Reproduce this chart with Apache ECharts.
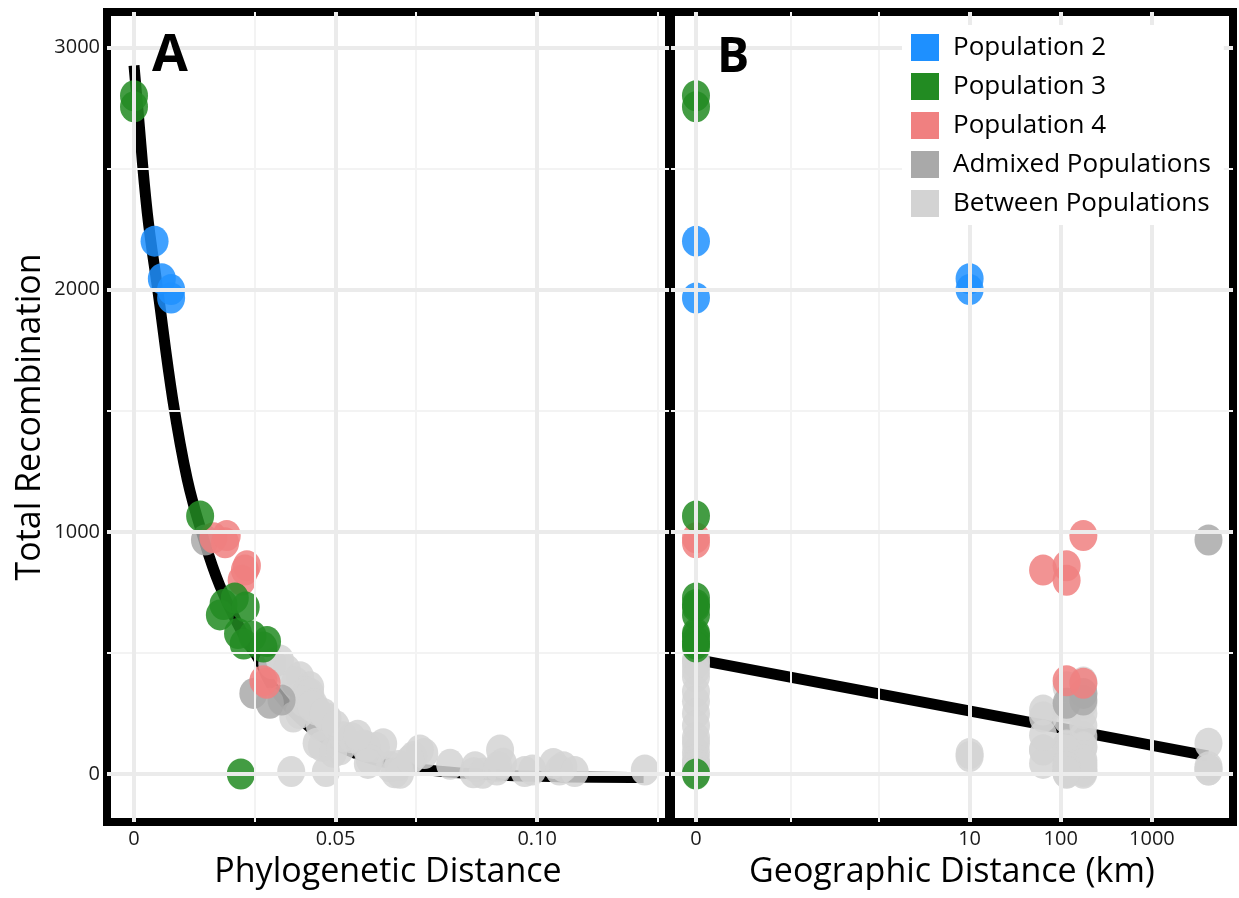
<!DOCTYPE html>
<html>
<head>
<meta charset="utf-8">
<script src="https://cdn.jsdelivr.net/npm/echarts@6/dist/echarts.min.js"></script>
<style>
  html, body { margin: 0; padding: 0; background: #fff; }
  #chart { width: 1239px; height: 898px; }
</style>
</head>
<body>
<div id="chart"></div>
<script>
// ---- data ----
const groupNames = ["Population 2", "Population 3", "Population 4", "Admixed Populations", "Between Populations"];
const groupColors = ["#1E90FF", "#228B22", "#F08080", "#A9A9A9", "#D3D3D3"];

const pop2Phylo = [0.0051, 0.0069, 0.0092, 0.0092];
const pop2Geo = [0, 10, 10, 0];
const pop2Recomb = [2200, 2045, 2000, 1965];

const pop3Phylo = [0, 0, 0.0164, 0.0222, 0.0213, 0.0250, 0.0277, 0.0258, 0.0294, 0.0272, 0.0330, 0.0321, 0.0265];
const pop3Geo = [0, 0, 0, 0, 0, 0, 0, 0, 0, 0, 0, 0, 0];
const pop3Recomb = [2800, 2755, 1065, 700, 657, 727, 690, 580, 570, 537, 547, 524, 0];

const pop4Phylo = [0.0197, 0.0226, 0.0230, 0.0280, 0.0275, 0.0267, 0.0321, 0.0329];
const pop4Geo = [0, 0, 177, 116, 64, 116, 116, 177];
const pop4Recomb = [975, 955, 985, 860, 842, 800, 385, 375];

const admixPhylo = [0.0176, 0.0296, 0.0337, 0.0366];
const admixGeo = [4170, 177, 116, 177];
const admixRecomb = [966, 333, 292, 306];

const betweenPhylo = [0.0362, 0.0343, 0.0379, 0.0412, 0.0400, 0.0437, 0.0428, 0.0437, 0.0420, 0.0445,
  0.0453, 0.0410, 0.0395, 0.0461, 0.0480, 0.0519, 0.0453, 0.0466, 0.0494, 0.0511,
  0.0577, 0.0618, 0.0570, 0.0540, 0.0600, 0.0585, 0.0580, 0.0635, 0.0656, 0.0647,
  0.0660, 0.0693, 0.0720, 0.0709, 0.0685, 0.0784, 0.0846, 0.0842, 0.0865, 0.0908,
  0.0900, 0.0915, 0.0903, 0.0969, 0.0988, 0.1040, 0.1055, 0.1065, 0.1093, 0.1267,
  0.0390, 0.0476, 0.0440, 0.0470, 0.0500, 0.0555];
const betweenGeo = [0, 0, 0, 0, 177, 116, 0, 177, 0, 177,
  64, 0, 64, 0, 116, 177, 4170, 116, 0, 64,
  177, 0, 116, 0, 177, 0, 64, 4170, 116, 116,
  177, 10, 10, 116, 177, 0, 177, 0, 116, 64,
  177, 116, 0, 177, 116, 177, 4170, 116, 0, 4170,
  0, 116, 116, 177, 177, 64];
const betweenRecomb = [471, 455, 430, 402, 380, 360, 340, 333, 300, 290,
  264, 250, 235, 200, 230, 154, 127, 115, 90, 100,
  113, 125, 120, 150, 110, 60, 44, 30, 35, 5,
  3, 72, 85, 99, 58, 40, 30, 5, 3, 99,
  17, 45, 30, 10, 17, 44, 17, 30, 10, 17,
  10, 10, 280, 250, 200, 160];

// fitted curve in panel A, fitted line in panel B
const curvePhylo = [0, 0.0009, 0.0033, 0.0060, 0.0096, 0.0132, 0.0168, 0.0213, 0.0277, 0.0308, 0.035, 0.045, 0.055, 0.065, 0.075, 0.09, 0.105, 0.1264];
const curveRecomb = [2925, 2756, 2316, 1986, 1547, 1217, 997, 777, 557, 478, 344, 175, 85, 38, 13, -4, -11, -14];
const fitGeo = [0, 4100];
const fitRecomb = [473, 75];

// axis breaks
const phyloTicks = [0, 0.05, 0.10];
const phyloTickLabels = ["0", "0.05", "0.10"];
const phyloMinor = [0.025, 0.075, 0.125];
const geoTicks = [0, 10, 100, 1000];
const geoTickLabels = ["0", "10", "100", "1000"];
const geoMinor = [0.1, 1];
const recombTicks = [0, 1000, 2000, 3000];
const recombMinor = [500, 1500, 2500];

// geographic axis is log10(km + 0.01)
const geoPos = km => Math.log10(km + 0.01);

const FONT = '"Open Sans", "Noto Sans", sans-serif';
const ellipse = "path://M0,15.5A14,15.5 0 1,1 28,15.5A14,15.5 0 1,1 0,15.5Z";

const groups = [
  [pop2Phylo, pop2Geo, pop2Recomb],
  [pop3Phylo, pop3Geo, pop3Recomb],
  [pop4Phylo, pop4Geo, pop4Recomb],
  [admixPhylo, admixGeo, admixRecomb],
  [betweenPhylo, betweenGeo, betweenRecomb]
];

function gridLines(xMajor, xMinor, yMajor, yMinor) {
  const major = { color: "#EBEBEB", width: 4, type: "solid" };
  const minor = { color: "#F3F3F3", width: 2, type: "solid" };
  return [].concat(
    xMinor.map(v => ({ xAxis: v, lineStyle: minor })),
    yMinor.map(v => ({ yAxis: v, lineStyle: minor })),
    xMajor.map(v => ({ xAxis: v, lineStyle: major })),
    yMajor.map(v => ({ yAxis: v, lineStyle: major }))
  );
}

function nearestLabel(ticks, labels, v) {
  let best = 0;
  ticks.forEach((t, i) => { if (Math.abs(t - v) < Math.abs(ticks[best] - v)) best = i; });
  return labels[best];
}

const series = [];
// grid lines, drawn first so everything sits on top
series.push({
  type: "scatter", xAxisIndex: 0, yAxisIndex: 0, data: [], silent: true, z: 1,
  markLine: { silent: true, symbol: ["none", "none"], label: { show: false }, animation: false,
    data: gridLines(phyloTicks, phyloMinor, recombTicks, recombMinor) }
});
series.push({
  type: "scatter", xAxisIndex: 1, yAxisIndex: 1, data: [], silent: true, z: 1,
  markLine: { silent: true, symbol: ["none", "none"], label: { show: false }, animation: false,
    data: gridLines(geoTicks.map(geoPos), geoMinor.map(geoPos), recombTicks, recombMinor) }
});

// fit lines under the points
series.push({
  name: "fitA", type: "line", xAxisIndex: 0, yAxisIndex: 0, smooth: 0.4, symbol: "none", z: 2,
  lineStyle: { color: "#000", width: 11 },
  data: curvePhylo.map((x, i) => [x, curveRecomb[i]])
});
series.push({
  name: "fitB", type: "line", xAxisIndex: 1, yAxisIndex: 1, symbol: "none", z: 2,
  lineStyle: { color: "#000", width: 11 },
  data: fitGeo.map((g, i) => [geoPos(g), fitRecomb[i]])
});

// points: between populations at the bottom, Population 2 on top
for (let k = groups.length - 1; k >= 0; k--) {
  const [ph, ge, re] = groups[k];
  const common = {
    name: groupNames[k], type: "scatter", symbol: ellipse, symbolSize: [28, 31], z: 3,
    itemStyle: { color: groupColors[k], opacity: 0.85 }
  };
  series.push(Object.assign({}, common, { xAxisIndex: 0, yAxisIndex: 0, data: ph.map((x, i) => [x, re[i]]) }));
  series.push(Object.assign({}, common, { xAxisIndex: 1, yAxisIndex: 1, data: ge.map((g, i) => [geoPos(g), re[i]]) }));
}

const tickLabel = { color: "#1a1a1a", fontSize: 20, fontFamily: FONT };
const axisName = { color: "#000", fontSize: 34, fontFamily: FONT };

const option = {
  animation: false,
  backgroundColor: "#fff",
  grid: [
    { left: 107, top: 12, width: 562, height: 810, show: true, borderWidth: 8, borderColor: "#000", backgroundColor: "transparent" },
    { left: 671, top: 12, width: 562, height: 810, show: true, borderWidth: 8, borderColor: "#000", backgroundColor: "transparent" }
  ],
  xAxis: [
    {
      type: "value", gridIndex: 0, min: -0.0067, max: 0.1327,
      name: "Phylogenetic Distance", nameLocation: "middle", nameGap: 33, nameTextStyle: axisName,
      axisLine: { show: false }, axisTick: { show: false }, splitLine: { show: false },
      axisLabel: Object.assign({}, tickLabel, { margin: 7, customValues: phyloTicks,
        formatter: v => nearestLabel(phyloTicks, phyloTickLabels, v) })
    },
    {
      type: "value", gridIndex: 1, min: -2.274, max: 3.889,
      name: "Geographic Distance (km)", nameLocation: "middle", nameGap: 33, nameTextStyle: axisName,
      axisLine: { show: false }, axisTick: { show: false }, splitLine: { show: false },
      axisLabel: Object.assign({}, tickLabel, { margin: 7, customValues: geoTicks.map(geoPos),
        formatter: v => nearestLabel(geoTicks.map(geoPos), geoTickLabels, v) })
    }
  ],
  yAxis: [
    {
      type: "value", gridIndex: 0, min: -198, max: 3146,
      name: "Total Recombination", nameLocation: "middle", nameGap: 60, nameTextStyle: axisName,
      axisLine: { show: false }, axisTick: { show: false }, splitLine: { show: false },
      axisLabel: Object.assign({}, tickLabel, { margin: 7, customValues: recombTicks,
        formatter: v => String(Math.round(v)) })
    },
    {
      type: "value", gridIndex: 1, min: -198, max: 3146,
      axisLine: { show: false }, axisTick: { show: false }, splitLine: { show: false },
      axisLabel: { show: false }
    }
  ],
  legend: {
    data: groupNames, orient: "vertical", left: 902, top: 25, selectedMode: false, z: 50,
    padding: [9, 13, 8, 9], backgroundColor: "#fff",
    icon: "rect", itemWidth: 28, itemHeight: 27, itemGap: 12,
    itemStyle: { opacity: 1 },
    textStyle: { color: "#000", fontSize: 26, fontFamily: FONT, padding: [0, 0, 0, 9] }
  },
  graphic: [
    { type: "text", left: 152, top: 30, z: 60,
      style: { text: "A", fill: "#000", fontSize: 52, fontWeight: "bold", fontFamily: FONT } },
    { type: "text", left: 717, top: 34, z: 60,
      style: { text: "B", fill: "#000", fontSize: 48, fontWeight: "bold", fontFamily: FONT } }
  ],
  series: series
};

const chart = echarts.init(document.getElementById("chart"));
chart.setOption(option);
</script>
</body>
</html>
